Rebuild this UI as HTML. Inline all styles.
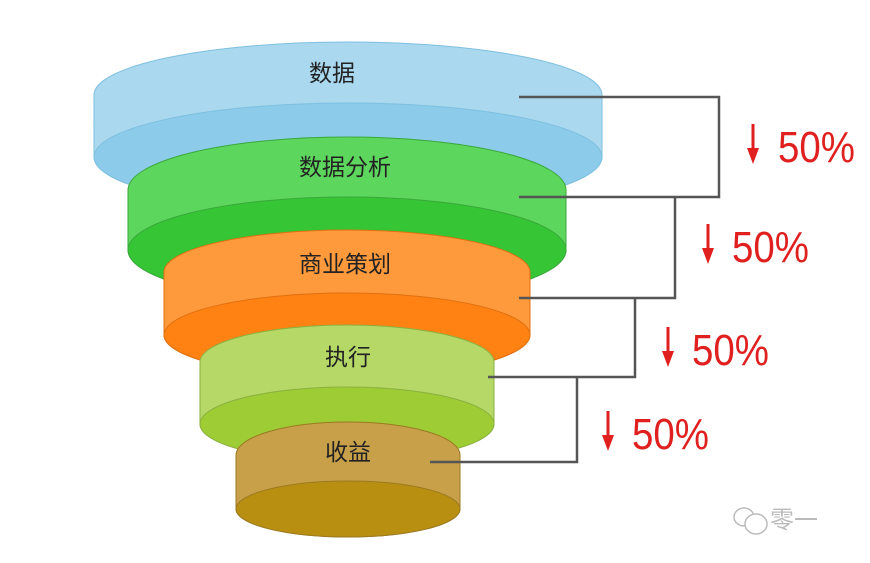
<!DOCTYPE html>
<html><head><meta charset="utf-8"><style>html,body{margin:0;padding:0;background:#fff}svg{display:block}</style></head>
<body>
<svg width="870" height="563" viewBox="0 0 870 563" xmlns="http://www.w3.org/2000/svg" font-family="'Liberation Sans','Noto Sans CJK SC',sans-serif">
<rect width="870" height="563" fill="#fff"/>
<g stroke="#7fbfe0" stroke-width="1">
<path d="M94,95 A254,53 0 0 1 602,95 L602,157 A254,54 0 0 1 94,157 Z" fill="#a9d8ef"/>
<path d="M94,157 A254,54 0 0 1 602,157 A254,54 0 0 1 94,157 Z" fill="#8ccbea"/>
</g>
<g stroke="#3aa83a" stroke-width="1">
<path d="M128,190 A219,53 0 0 1 566,190 L566,250 A219,53 0 0 1 128,250 Z" fill="#5dd65d"/>
<path d="M128,250 A219,53 0 0 1 566,250 A219,53 0 0 1 128,250 Z" fill="#35c535"/>
</g>
<g stroke="#e07010" stroke-width="1">
<path d="M164,272 A183,42 0 0 1 530,272 L530,335 A183,42 0 0 1 164,335 Z" fill="#ff9a3c"/>
<path d="M164,335 A183,42 0 0 1 530,335 A183,42 0 0 1 164,335 Z" fill="#ff8212"/>
</g>
<g stroke="#8ab040" stroke-width="1">
<path d="M200,362 A147,37 0 0 1 494,362 L494,424 A147,37 0 0 1 200,424 Z" fill="#b5d867"/>
<path d="M200,424 A147,37 0 0 1 494,424 A147,37 0 0 1 200,424 Z" fill="#9dcc35"/>
</g>
<g stroke="#9a7a20" stroke-width="1">
<path d="M236,455 A112,33 0 0 1 460,455 L460,509 A112,28 0 0 1 236,509 Z" fill="#c9a04a"/>
<path d="M236,509 A112,28 0 0 1 460,509 A112,28 0 0 1 236,509 Z" fill="#b98f12"/>
</g>
<g font-size="23" fill="#222" text-anchor="middle">
<text x="332" y="81">数据</text>
<text x="345" y="175">数据分析</text>
<text x="345" y="272">商业策划</text>
<text x="348" y="365">执行</text>
<text x="348" y="460">收益</text>
</g>
<g stroke="#555" stroke-width="2.5" fill="none">
<polyline points="519,97 719,97 719,197 519,197"/>
<polyline points="675,197 675,298 519,298"/>
<polyline points="635,298 635,377 488,377"/>
<polyline points="577,377 577,462 430,462"/>
</g>
<g fill="#e0201f" stroke="#e0201f">
<g stroke-width="3"><line x1="753" y1="124" x2="753" y2="152"/><line x1="708" y1="224" x2="708" y2="252"/><line x1="668" y1="327" x2="668" y2="355"/><line x1="608" y1="411" x2="608" y2="439"/></g>
<g stroke="none">
<polygon points="747,148 759,148 753,164"/>
<polygon points="702,248 714,248 708,264"/>
<polygon points="662,351 674,351 668,367"/>
<polygon points="602,435 614,435 608,451"/>
</g>
</g>
<g fill="#e0201f" font-size="44">
<text x="778" y="162" textLength="77" lengthAdjust="spacingAndGlyphs">50%</text>
<text x="732" y="262" textLength="77" lengthAdjust="spacingAndGlyphs">50%</text>
<text x="692" y="365" textLength="77" lengthAdjust="spacingAndGlyphs">50%</text>
<text x="632" y="449" textLength="77" lengthAdjust="spacingAndGlyphs">50%</text>
</g>
<g fill="none" stroke="#bbb" stroke-width="1.5">
<ellipse cx="744" cy="517" rx="10" ry="9"/>
<ellipse cx="756" cy="524" rx="11" ry="10" fill="#fff"/>
</g>
<text x="770" y="528" font-size="24" fill="#bbb">零一</text>
</svg>
</body></html>
